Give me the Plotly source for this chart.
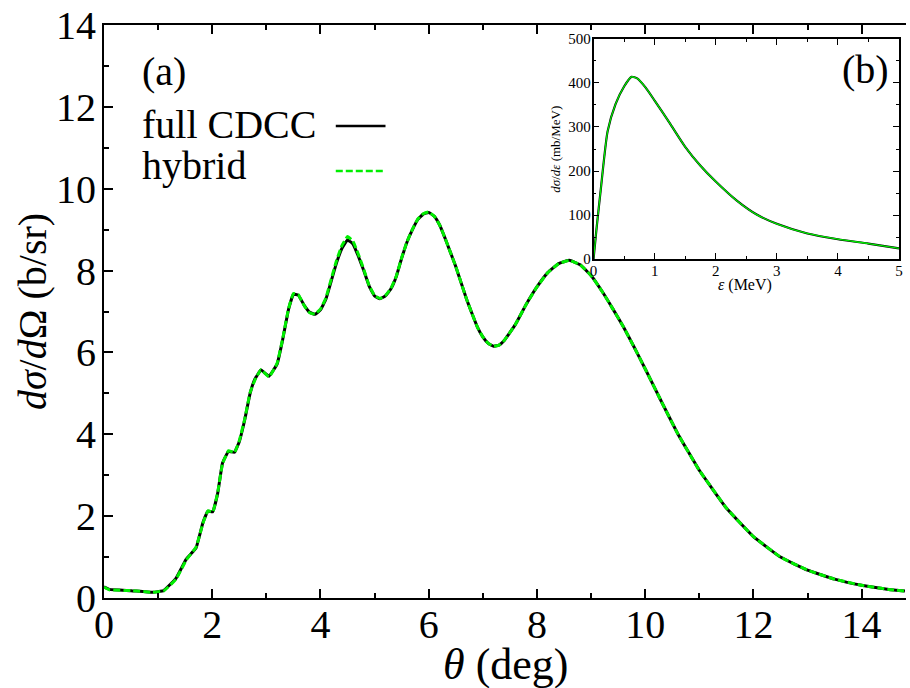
import plotly.graph_objects as go

# ---- main panel (a) data ----
theta = [0, 0.1, 0.5, 0.9, 1.1, 1.33, 1.52, 1.7, 1.83, 1.92, 2.01, 2.1, 2.19, 2.3, 2.41, 2.5,
         2.6, 2.7, 2.79, 2.9, 3.05, 3.2, 3.3, 3.41, 3.5, 3.59, 3.7, 3.8, 3.9, 4.0, 4.1, 4.2,
         4.3, 4.4, 4.5, 4.6, 4.7, 4.8, 4.9, 5.0, 5.1, 5.2, 5.3, 5.4, 5.5, 5.6, 5.7, 5.8, 5.9,
         6.0, 6.1, 6.2, 6.3, 6.4, 6.5, 6.6, 6.7, 6.8, 6.9, 7.0, 7.1, 7.2, 7.3, 7.4, 7.6, 7.8,
         8.0, 8.2, 8.4, 8.6, 8.8, 9.0, 9.2, 9.4, 9.6, 9.8, 10.0, 10.3, 10.6, 11.0, 11.5, 12.0,
         12.5, 13.0, 13.5, 14.0, 14.5, 14.8]
full_cdcc = [0.27, 0.21, 0.18, 0.14, 0.18, 0.48, 0.95, 1.22, 1.85, 2.12, 2.11, 2.55, 3.30, 3.58,
             3.56, 3.82, 4.35, 5.0, 5.35, 5.57, 5.42, 5.72, 6.3, 7.05, 7.42, 7.40, 7.15, 6.98,
             6.93, 7.04, 7.3, 7.75, 8.2, 8.55, 8.75, 8.65, 8.35, 8.0, 7.62, 7.38, 7.31, 7.38,
             7.55, 7.85, 8.3, 8.7, 9.0, 9.25, 9.38, 9.42, 9.33, 9.12, 8.8, 8.45, 8.1, 7.7, 7.3,
             6.95, 6.62, 6.38, 6.22, 6.15, 6.18, 6.3, 6.68, 7.17, 7.6, 7.95, 8.17, 8.25, 8.14,
             7.88, 7.5, 7.07, 6.62, 6.12, 5.6, 4.8, 4.02, 3.12, 2.2, 1.5, 1.0, 0.68, 0.46, 0.31,
             0.21, 0.17]
hybrid = [0.27, 0.20, 0.18, 0.14, 0.17, 0.46, 0.93, 1.24, 1.83, 2.13, 2.10, 2.57, 3.28, 3.60,
          3.55, 3.84, 4.37, 5.02, 5.33, 5.58, 5.40, 5.74, 6.32, 7.07, 7.44, 7.41, 7.14, 6.97,
          6.94, 7.06, 7.33, 7.8, 8.26, 8.62, 8.83, 8.72, 8.4, 8.03, 7.63, 7.39, 7.32, 7.39,
          7.56, 7.86, 8.31, 8.71, 9.01, 9.26, 9.39, 9.43, 9.33, 9.12, 8.8, 8.45, 8.1, 7.7, 7.3,
          6.95, 6.62, 6.38, 6.22, 6.15, 6.18, 6.3, 6.68, 7.17, 7.6, 7.95, 8.17, 8.25, 8.14,
          7.88, 7.5, 7.07, 6.62, 6.12, 5.6, 4.8, 4.02, 3.12, 2.2, 1.5, 1.0, 0.68, 0.46, 0.31,
          0.21, 0.17]

# ---- inset panel (b) data ----
eps = [0, 0.05, 0.12, 0.23, 0.36, 0.5, 0.62, 0.72, 0.85, 1.0, 1.25, 1.5, 1.75, 2.0, 2.35,
       2.67, 3.0, 3.5, 4.0, 4.5, 5.0]
dsde_full = [0, 70, 160, 290, 352, 392, 414, 410, 390, 360, 308, 255, 212, 176, 132, 101, 80,
             58, 45, 35, 24]
dsde_hybrid = list(dsde_full)

FONT = "Liberation Serif, Times New Roman, serif"
BLACK = "#000000"
GREEN = "#00ee00"

fig = go.Figure()
fig.add_trace(go.Scatter(x=theta, y=full_cdcc, mode="lines", line_shape="spline",
                         line=dict(color=BLACK, width=3, smoothing=0.3), showlegend=False))
fig.add_trace(go.Scatter(x=theta, y=hybrid, mode="lines", line_shape="spline",
                         line=dict(color=GREEN, width=3, dash="7px,3px", smoothing=0.3),
                         showlegend=False))
fig.add_trace(go.Scatter(x=eps, y=dsde_full, mode="lines", xaxis="x2", yaxis="y2",
                         line_shape="spline",
                         line=dict(color=BLACK, width=2.2, smoothing=0.6), showlegend=False))
fig.add_trace(go.Scatter(x=eps, y=dsde_hybrid, mode="lines", xaxis="x2", yaxis="y2",
                         line_shape="spline",
                         line=dict(color=GREEN, width=1.3, smoothing=0.6), showlegend=False))

main_axis = dict(showline=True, linecolor=BLACK, linewidth=2, ticks="inside", ticklen=9,
                 tickwidth=2, tickcolor=BLACK, showgrid=False, zeroline=False,
                 tickfont=dict(family=FONT, size=40, color=BLACK))
inset_axis = dict(showline=True, linecolor=BLACK, linewidth=1.5, ticks="inside", ticklen=6,
                  tickwidth=1.2, tickcolor=BLACK, showgrid=False, zeroline=False,
                  mirror="ticks", tickfont=dict(family=FONT, size=15, color=BLACK))

fig.update_layout(
    width=910, height=688,
    margin=dict(l=104, r=0, t=25, b=90),
    paper_bgcolor="white", plot_bgcolor="white",
    font=dict(family=FONT, color=BLACK),
    xaxis=dict(main_axis, range=[0, 14.82], dtick=2, tick0=0, mirror="ticks",
               ticklabelstandoff=-10,
               minor=dict(dtick=1, ticklen=5, ticks="inside", tickcolor=BLACK, tickwidth=2)),
    yaxis=dict(main_axis, range=[0, 14], dtick=2, tick0=0, ticklabelstandoff=-2,
               minor=dict(dtick=1, ticklen=5, ticks="inside", tickcolor=BLACK, tickwidth=2)),
    xaxis2=dict(inset_axis, domain=[0.6104, 0.9913], anchor="y2", range=[0, 5], dtick=1,
                ticklabelstandoff=-3,
                minor=dict(dtick=0.5, ticklen=3, ticks="inside", tickcolor=BLACK)),
    yaxis2=dict(inset_axis, domain=[0.5916, 0.9756], anchor="x2", range=[0, 500], dtick=100,
                ticklabelstandoff=-2,
                minor=dict(dtick=50, ticklen=3, ticks="inside", tickcolor=BLACK)),
)

ann = []
ann.append(dict(text="<i>θ</i> (deg)", x=0.5, xref="paper", y=-0.1155, yref="paper",
                xanchor="center", yanchor="middle", showarrow=False,
                font=dict(family=FONT, size=44, color=BLACK)))
ann.append(dict(text="<i>dσ</i>/<i>d</i>Ω (b/sr)", x=-0.089, xref="paper", y=0.5, yref="paper",
                xanchor="center", yanchor="middle", textangle=-90, showarrow=False,
                font=dict(family=FONT, size=40, color=BLACK)))
ann.append(dict(text="(a)", x=0.0447, xref="paper", y=0.918, yref="paper",
                xanchor="left", yanchor="middle", showarrow=False,
                font=dict(family=FONT, size=40, color=BLACK)))
ann.append(dict(text="full CDCC", x=0.0447, xref="paper", y=0.8255, yref="paper",
                xanchor="left", yanchor="middle", showarrow=False,
                font=dict(family=FONT, size=40, color=BLACK)))
ann.append(dict(text="hybrid", x=0.0447, xref="paper", y=0.754, yref="paper",
                xanchor="left", yanchor="middle", showarrow=False,
                font=dict(family=FONT, size=40, color=BLACK)))
ann.append(dict(text="(b)", x=0.950, xref="paper", y=0.9215, yref="paper",
                xanchor="center", yanchor="middle", showarrow=False,
                font=dict(family=FONT, size=40, color=BLACK)))
ann.append(dict(text="<i>ε</i> (MeV)", x=0.799, xref="paper", y=0.547, yref="paper",
                xanchor="center", yanchor="middle", showarrow=False,
                font=dict(family=FONT, size=16, color=BLACK)))
ann.append(dict(text="<i>dσ</i>/<i>dε</i> (mb/MeV)", x=0.5633, xref="paper", y=0.7836,
                yref="paper", xanchor="center", yanchor="middle", textangle=-90,
                showarrow=False, font=dict(family=FONT, size=13, color=BLACK)))
fig.update_layout(annotations=ann)

# legend line samples (text left, sample right)
fig.add_shape(type="line", xref="paper", yref="paper", x0=0.289, x1=0.351,
              y0=0.8237, y1=0.8237, line=dict(color=BLACK, width=2.5))
fig.add_shape(type="line", xref="paper", yref="paper", x0=0.289, x1=0.351,
              y0=0.7452, y1=0.7452, line=dict(color=GREEN, width=2.5, dash="7px,3px"))

fig.write_html("out.html")
